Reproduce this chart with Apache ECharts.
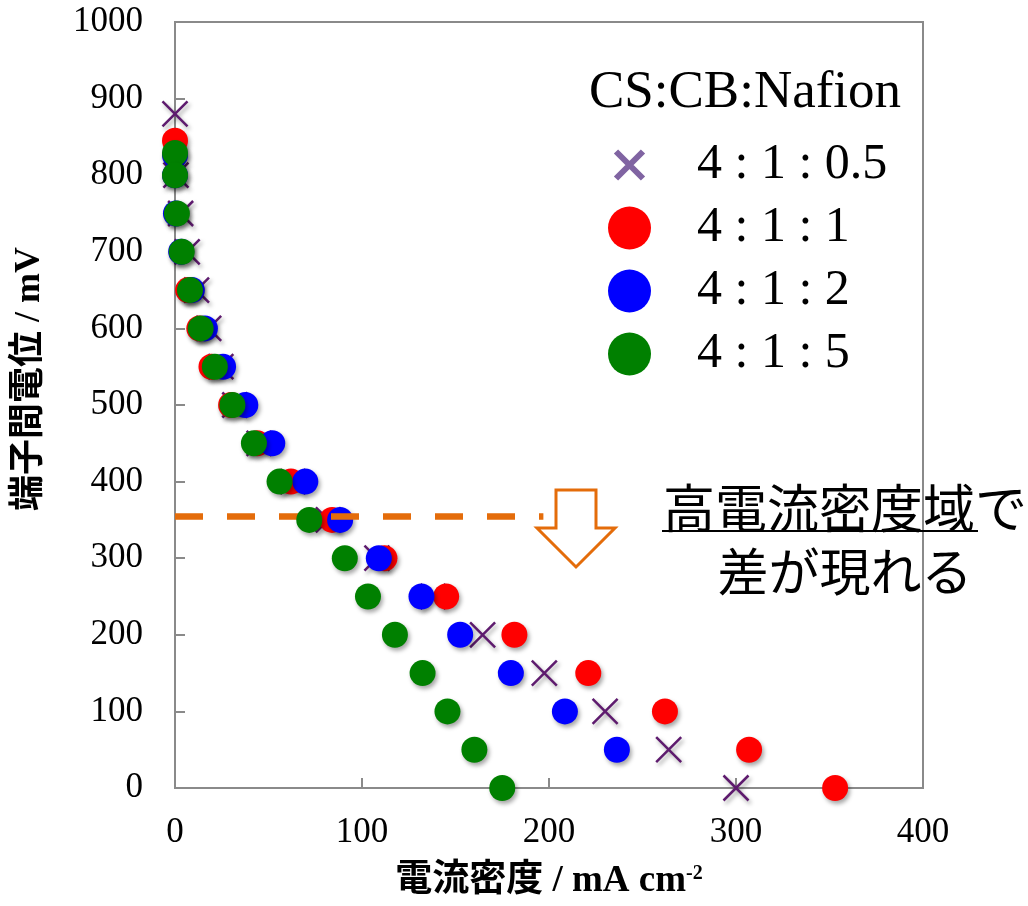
<!DOCTYPE html>
<html>
<head>
<meta charset="utf-8">
<script src="https://cdn.jsdelivr.net/npm/echarts@6/dist/echarts.min.js"></script>
<style>
  html, body { margin: 0; padding: 0; background: #fff; }
  #chart { width: 1028px; height: 906px; }
</style>
</head>
<body>
<div id="chart"></div>
<script>
// ---- data ----
const seriesNames = ['4 : 1 : 0.5', '4 : 1 : 1', '4 : 1 : 2', '4 : 1 : 5'];

// 4:1:0.5 (purple crosses)
const potA = [880, 800, 750, 700, 650, 600, 550, 500, 450, 400, 350, 300, 250, 200, 150, 100, 50, 0];
const curA = [0, 0.5, 3, 6.5, 11.5, 18, 24.5, 32, 45, 63, 82, 108, 138, 164.5, 197.5, 230, 264, 300];

// 4:1:1 (red)
const potB = [845, 650, 600, 550, 500, 450, 400, 350, 300, 250, 200, 150, 100, 50, 0];
const curB = [0, 7, 13, 19.5, 30, 44, 62, 84, 112, 145, 181.5, 221, 262, 307, 353];

// 4:1:2 (blue)
const potC = [826, 800, 750, 700, 650, 600, 550, 500, 450, 400, 350, 300, 250, 200, 150, 100, 50];
const curC = [0, 0, 0.5, 3.3, 9, 16, 25.7, 37.6, 52, 69.7, 88.3, 109, 131.8, 152.5, 179.6, 208.5, 236.3];

// 4:1:5 (green)
const potD = [829, 800, 750, 700, 650, 600, 550, 500, 450, 400, 350, 300, 250, 200, 150, 100, 50, 0];
const curD = [0, 0, 1, 3.6, 8, 13.7, 21.3, 30.7, 42.2, 55.9, 71.8, 90.8, 103.2, 117.6, 132.4, 145.7, 160.1, 175];

// dashed guide line (current range, potential level)
const guideCurrent = [0, 197];
const guidePotential = 355;

const xTicks = { min: 0, max: 400, interval: 100 };
const yTicks = { min: 0, max: 1000, interval: 100 };

// ---- helpers ----
function pairs(xs, ys) { return xs.map((x, i) => [x, ys[i]]); }

const serifFont = "'Liberation Serif', 'Times New Roman', serif";
const cjkBold = "'Liberation Serif', 'Noto Sans CJK JP', serif";
const axisGray = '#8a8a8a';
const crossPath = 'path://M0,0L10,10M10,0L0,10';
const legendCrossPath = 'path://M0,0M43,43M8,8L35,35M35,8L8,35';
const shadow = { opacity: 1, shadowColor: 'rgba(0,0,0,0.35)', shadowBlur: 4, shadowOffsetX: 2, shadowOffsetY: 3 };
const noShadow = { opacity: 1, shadowColor: 'rgba(0,0,0,0)', shadowBlur: 0, shadowOffsetX: 0, shadowOffsetY: 0 };

const chart = echarts.init(document.getElementById('chart'), null, { renderer: 'canvas' });

const option = {
  backgroundColor: '#ffffff',
  animation: false,
  grid: {
    left: 175, right: 105, top: 22, bottom: 118,
    show: true, borderColor: axisGray, borderWidth: 2, backgroundColor: 'transparent'
  },
  xAxis: {
    type: 'value',
    min: xTicks.min, max: xTicks.max, interval: xTicks.interval,
    splitLine: { show: false },
    axisLine: { show: true, lineStyle: { color: axisGray, width: 2 } },
    axisTick: { show: true, inside: true, length: 10, lineStyle: { color: axisGray, width: 2 } },
    axisLabel: { fontFamily: serifFont, fontSize: 35, color: '#000', margin: 27, formatter: v => String(v) },
    name: '電流密度 / mA cm{sup|-2}',
    nameLocation: 'middle',
    nameGap: 75,
    nameTextStyle: {
      fontFamily: cjkBold, fontSize: 37, fontWeight: 'bold', color: '#000',
      rich: { sup: { fontFamily: serifFont, fontSize: 20, fontWeight: 'bold', color: '#000', padding: [0, 0, 16, 0] } }
    }
  },
  yAxis: {
    type: 'value',
    min: yTicks.min, max: yTicks.max, interval: yTicks.interval,
    splitLine: { show: false },
    axisLine: { show: true, lineStyle: { color: axisGray, width: 2 } },
    axisTick: { show: true, inside: true, length: 10, lineStyle: { color: axisGray, width: 2 } },
    axisLabel: { fontFamily: serifFont, fontSize: 35, color: '#000', margin: 32, formatter: v => String(v) }
  },
  legend: {
    orient: 'vertical',
    left: 605, top: 140,
    padding: 0,
    itemWidth: 43, itemHeight: 43, itemGap: 13,
    selectedMode: false,
    textStyle: { fontFamily: serifFont, fontSize: 50, color: '#000', lineHeight: 43, height: 43, padding: [0, 0, 0, 41] },
    data: [
      { name: seriesNames[0], icon: legendCrossPath, itemStyle: Object.assign({ color: '#8064A2', borderColor: '#8064A2', borderWidth: 6 }, noShadow) },
      { name: seriesNames[1], icon: 'circle', itemStyle: Object.assign({ color: '#ff0000', borderWidth: 0 }, noShadow) },
      { name: seriesNames[2], icon: 'circle', itemStyle: Object.assign({ color: '#0000ff', borderWidth: 0 }, noShadow) },
      { name: seriesNames[3], icon: 'circle', itemStyle: Object.assign({ color: '#008000', borderWidth: 0 }, noShadow) }
    ]
  },
  series: [
    {
      name: 'guide',
      type: 'line',
      data: [],
      z: 1,
      silent: true,
      markLine: {
        silent: true,
        symbol: 'none',
        label: { show: false },
        lineStyle: { color: '#E46C0A', width: 6.5, type: [28, 24], opacity: 1 },
        data: [[{ coord: [guideCurrent[0], guidePotential] }, { coord: [guideCurrent[1], guidePotential] }]]
      }
    },
    {
      name: seriesNames[0],
      type: 'scatter',
      z: 2,
      symbol: crossPath,
      symbolSize: 25,
      itemStyle: Object.assign({ color: '#5E1B6E', borderColor: '#5E1B6E', borderWidth: 2.5 }, shadow),
      data: pairs(curA, potA)
    },
    {
      name: seriesNames[1],
      type: 'scatter',
      z: 3,
      symbol: 'circle',
      symbolSize: 26,
      itemStyle: Object.assign({ color: '#ff0000' }, shadow),
      data: pairs(curB, potB)
    },
    {
      name: seriesNames[2],
      type: 'scatter',
      z: 4,
      symbol: 'circle',
      symbolSize: 26,
      itemStyle: Object.assign({ color: '#0000ff' }, shadow),
      data: pairs(curC, potC)
    },
    {
      name: seriesNames[3],
      type: 'scatter',
      z: 5,
      symbol: 'circle',
      symbolSize: 26,
      itemStyle: Object.assign({ color: '#008000' }, shadow),
      data: pairs(curD, potD)
    }
  ],
  graphic: [
    {
      type: 'text', x: 745, y: 93, z: 10,
      style: { text: 'CS:CB:Nafion', font: "53px 'Liberation Serif'", fill: '#000', textAlign: 'center', textVerticalAlign: 'middle' }
    },
    {
      type: 'text', x: 30, y: 379, rotation: Math.PI / 2, z: 10,
      style: { text: '端子間電位 / mV', font: "bold 36px 'Liberation Serif', 'Noto Sans CJK JP'", fill: '#000', textAlign: 'center', textVerticalAlign: 'middle' }
    },
    {
      type: 'polygon', z: 10,
      shape: { points: [[556, 490], [596, 490], [596, 528], [615, 528], [576, 567], [537, 528], [556, 528]] },
      style: { fill: '#ffffff', stroke: '#E46C0A', lineWidth: 3, lineJoin: 'miter' }
    },
    {
      type: 'text', x: 663, y: 508, z: 10,
      style: { text: '高電流密度域で', font: "52px 'Noto Sans CJK JP'", fill: '#000', textAlign: 'left', textVerticalAlign: 'middle' }
    },
    {
      type: 'line', z: 10,
      shape: { x1: 662, y1: 531, x2: 978, y2: 531 },
      style: { stroke: '#000', lineWidth: 2 }
    },
    {
      type: 'text', x: 845, y: 572, z: 10,
      style: { text: '差が現れる', font: "51px 'Noto Sans CJK JP'", fill: '#000', textAlign: 'center', textVerticalAlign: 'middle' }
    }
  ]
};

chart.setOption(option);
</script>
</body>
</html>
